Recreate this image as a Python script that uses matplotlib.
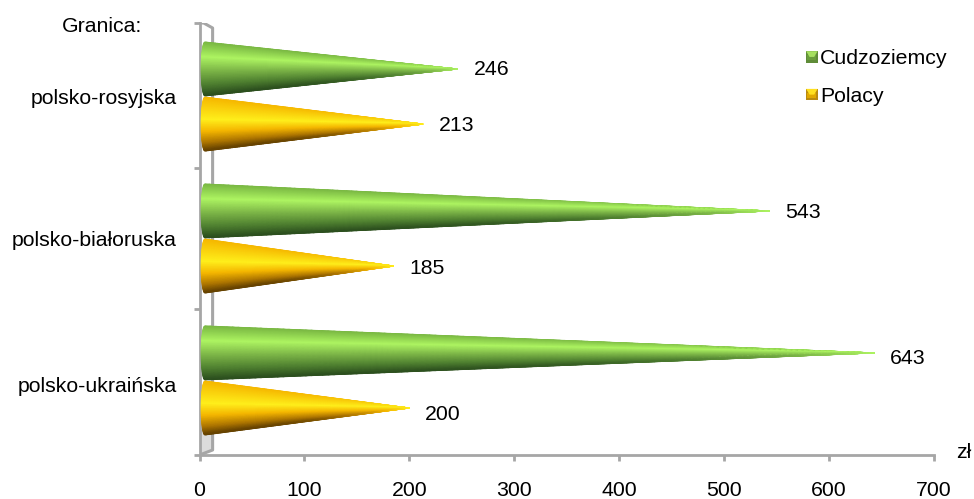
import numpy as np
import matplotlib
matplotlib.use("Agg")
import matplotlib.pyplot as plt
from matplotlib.colors import LinearSegmentedColormap
from matplotlib.legend_handler import HandlerBase
from matplotlib.patches import Polygon, Rectangle
from matplotlib.lines import Line2D

categories = ["polsko-ukraińska", "polsko-białoruska", "polsko-rosyjska"]
cudzoziemcy = [643, 543, 246]
polacy = [200, 185, 213]
x_ticks = [0, 100, 200, 300, 400, 500, 600, 700]
series_names = ["Cudzoziemcy", "Polacy"]

plt.rcParams["font.family"] = ["Liberation Sans", "DejaVu Sans"]
FS = 15.3
W, H = 974, 499
GREY = "#a6a6a6"

green_cmap = LinearSegmentedColormap.from_list("g", [
    (0.0, "#7ab843"), (0.28, "#aef562"), (0.55, "#7cb547"),
    (0.80, "#4f8030"), (1.0, "#2c4f1e")])
yellow_cmap = LinearSegmentedColormap.from_list("y", [
    (0.0, "#f6b800"), (0.42, "#fff01c"), (0.65, "#f4b600"),
    (0.85, "#b07800"), (1.0, "#654200")])

fig = plt.figure(figsize=(W / 100, H / 100), dpi=100)
ax = fig.add_axes([199.5 / W, 1 - 455 / H, (934 - 199.5) / W, (455 - 23) / H])
ax.set_xlim(0, 700)
ax.set_ylim(-0.525, 2.518)


def cone(value, center, half, cmap, bright):
    s = np.linspace(0, 1, 120)
    t = np.linspace(-1, 1, 81)
    S, T = np.meshgrid(s, t)
    base, bulge = 1.6, 3.5
    X = base + (value - base) * S + bulge * (1 - np.sqrt(1 - T ** 2)) * (1 - S)
    Y = center - half * (1 - S) * T
    C = (T + 1) / 2
    C = bright + (C - bright) * (1 - S ** 4)
    ax.pcolormesh(X, Y, C, cmap=cmap, shading="gouraud", vmin=0, vmax=1,
                  zorder=4, rasterized=True)


OFF, HALF = 0.194, 0.19
label_dy = [-6, -2, -1]
y0, y1 = ax.get_ylim()
wall_dx, wall_dy = 12.5, 5 / 142
# 3D frame: floor patch and back edge
ax.add_patch(Polygon([[0, y0], [wall_dx, y0 + wall_dy], [wall_dx, y0 + 0.2], [0, y0 + 0.2]],
                     closed=True, fc="#dcdcdc", ec="none", zorder=2))
ax.add_line(Line2D([0, wall_dx, wall_dx, 4, 0], [y0, y0 + wall_dy, y1 - wall_dy, y1, y1],
                   color=GREY, lw=2.2, zorder=2.5))

for i, cat in enumerate(categories):
    cone(cudzoziemcy[i], i + OFF, HALF, green_cmap, 0.28)
    cone(polacy[i], i - OFF, HALF, yellow_cmap, 0.42)
    for v, yc in ((cudzoziemcy[i], i + OFF), (polacy[i], i - OFF)):
        ax.annotate(str(v), (v, yc), xytext=(16, label_dy[i]), textcoords="offset pixels",
                    fontsize=FS, va="center", ha="left", zorder=6, color="black")

for side in ("top", "right"):
    ax.spines[side].set_visible(False)
for side in ("left", "bottom"):
    ax.spines[side].set_color(GREY)
    ax.spines[side].set_linewidth(2.0)
    ax.spines[side].set_zorder(3)

ax.set_xticks(x_ticks)
ax.set_yticks([y0, 0.5, 1.5, y1])
ax.set_yticklabels([])
ax.tick_params(axis="both", color=GREY, width=2.0, length=4.5)
ax.tick_params(axis="x", labelsize=FS, pad=14, labelcolor="black")

# category labels sit at hand-placed positions in the source chart
label_y = [387, 241, 99]
for cat, yp in zip(categories, label_y):
    fig.text(177 / W, 1 - yp / H, cat, ha="right", va="center", fontsize=FS, color="black", zorder=7)
fig.text(62 / W, 1 - 27 / H, "Granica:", ha="left", va="center", fontsize=FS, color="black")
fig.text(956 / W, 1 - 453 / H, "zł", ha="left", va="center", fontsize=FS, color="black")


class BevelHandler(HandlerBase):
    def __init__(self, face, light, dark):
        super().__init__()
        self.face, self.light, self.dark = face, light, dark

    def create_artists(self, legend, orig, xd, yd, width, height, fontsize, trans):
        a = 8.3
        x0 = width - a
        yb = height / 2 - a / 2
        outer = Rectangle((x0, yb), a, a, fc=self.dark, ec="none", transform=trans)
        mid = Rectangle((x0 + a * .12, yb + a * .25), a * .76, a * .4, fc=self.face, ec="none",
                        transform=trans)
        top = Polygon([[x0, yb + a], [x0 + a, yb + a], [x0 + a * .7, yb + a * .5],
                       [x0 + a * .3, yb + a * .5]], closed=True, fc=self.light, ec="none",
                      transform=trans)
        return [outer, mid, top]


h1 = Line2D([], [], label=series_names[0])
h2 = Line2D([], [], label=series_names[1])
ax.legend(handles=[h1, h2], loc="upper left",
          bbox_to_anchor=((790 - 199.5) / (934 - 199.5), 1 - (43 - 23) / 432),
          frameon=False, fontsize=FS, handlelength=1.0, handletextpad=0.12, labelspacing=0.88,
          borderpad=0.3, borderaxespad=0, labelcolor="black",
          handler_map={h1: BevelHandler("#6a9d3c", "#a6e060", "#5f8c38"),
                       h2: BevelHandler("#e0a800", "#ffe020", "#b98a10")})

ax.patch.set_alpha(0)
fig.savefig("out.png", dpi=100)
